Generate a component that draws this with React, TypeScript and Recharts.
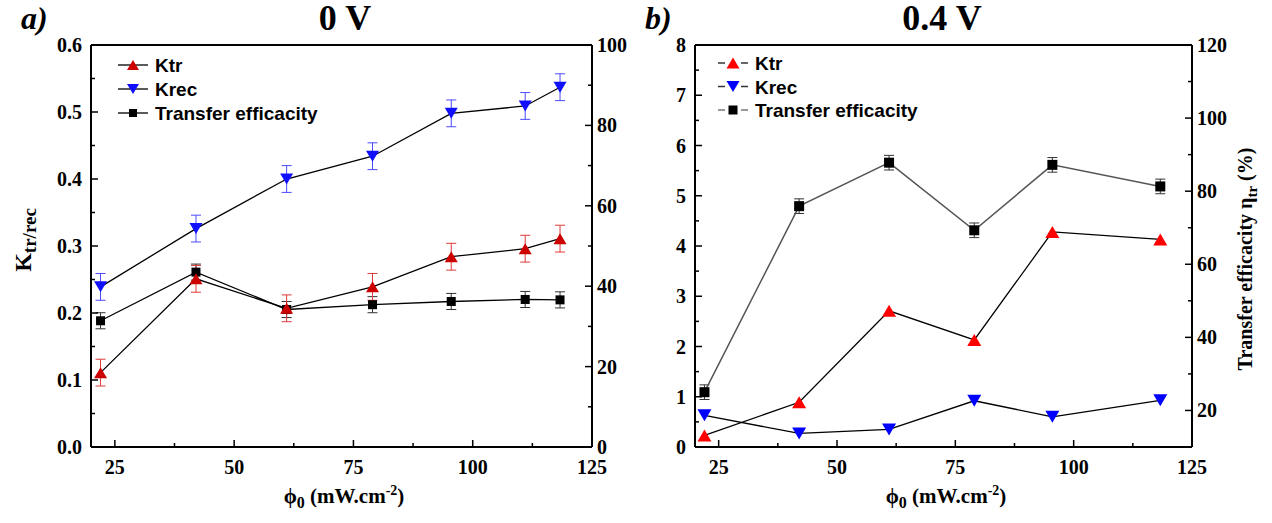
import React from "react";
import { ComposedChart, Line, XAxis, YAxis, ErrorBar, ReferenceLine, Legend } from "recharts";

// panel a) 0 V
const xA = [22, 42, 61, 79, 95.5, 111, 118.3];
const ktrA = [0.111, 0.251, 0.207, 0.239, 0.284, 0.296, 0.311];
const ktrAErr = [0.02, 0.02, 0.02, 0.02, 0.02, 0.02, 0.02];
const krecA = [0.239, 0.326, 0.4, 0.434, 0.498, 0.509, 0.537];
const krecAErr = [0.02, 0.02, 0.02, 0.02, 0.02, 0.02, 0.02];
const effA = [31.4, 43.5, 34.2, 35.4, 36.2, 36.7, 36.6];
const effAErr = [2, 2, 2, 2, 2, 2, 2];

// panel b) 0.4 V
const xB = [22, 42, 61, 79, 95.5, 118.3];
const ktrB = [0.23, 0.89, 2.71, 2.13, 4.28, 4.13];
const krecB = [0.63, 0.27, 0.35, 0.92, 0.6, 0.93];
const effB = [25, 75.9, 87.8, 69.3, 87.2, 81.3];
const effBErr = [2, 2, 2, 2, 2, 2];

// ticks (majors get labels)
const xTicks = [25, 37.5, 50, 62.5, 75, 87.5, 100, 112.5, 125];
const xMajor = [25, 50, 75, 100, 125];
const yTicksA = [0, 0.05, 0.1, 0.15, 0.2, 0.25, 0.3, 0.35, 0.4, 0.45, 0.5, 0.55, 0.6];
const yMajorA = [0, 0.1, 0.2, 0.3, 0.4, 0.5, 0.6];
const y2TicksA = [0, 10, 20, 30, 40, 50, 60, 70, 80, 90, 100];
const y2MajorA = [0, 20, 40, 60, 80, 100];
const yTicksB = [0, 0.5, 1, 1.5, 2, 2.5, 3, 3.5, 4, 4.5, 5, 5.5, 6, 6.5, 7, 7.5, 8];
const yMajorB = [0, 1, 2, 3, 4, 5, 6, 7, 8];
const y2TicksB = [10, 20, 30, 40, 50, 60, 70, 80, 90, 100, 110, 120];
const y2MajorB = [20, 40, 60, 80, 100, 120];

const dataA = xA.map((x, i) => ({
  x, ktr: ktrA[i], ktrErr: ktrAErr[i], krec: krecA[i], krecErr: krecAErr[i], eff: effA[i], effErr: effAErr[i],
}));
const dataB = xB.map((x, i) => ({ x, ktr: ktrB[i], krec: krecB[i], eff: effB[i], effErr: effBErr[i] }));

const SERIF = "'Liberation Serif', 'Times New Roman', serif";
const SANS = "'Liberation Sans', Arial, sans-serif";
const TICK_FONT = 20;
const M = 8;

const isIn = (arr: number[], v: number) => arr.some((m) => Math.abs(m - v) < 1e-9);

function makeTick(side: "left" | "right" | "bottom", majors: number[], fmt: (v: number) => string) {
  return (props: any) => {
    const { x, y, payload } = props;
    const v = payload.value;
    const major = isIn(majors, v);
    const len = major ? 7 : 4;
    const txt = { fontFamily: SERIF, fontWeight: 700, fontSize: TICK_FONT, fill: "#000" };
    if (side === "left") {
      const ax = x + M;
      return (
        <g>
          <line x1={ax} y1={y} x2={ax + len} y2={y} stroke="#000" strokeWidth={1.5} />
          {major && <text x={ax - 9} y={y + 7} textAnchor="end" {...txt}>{fmt(v)}</text>}
        </g>
      );
    }
    if (side === "right") {
      const ax = x - M;
      return (
        <g>
          <line x1={ax} y1={y} x2={ax - len} y2={y} stroke="#000" strokeWidth={1.5} />
          {major && <text x={ax + 5} y={y + 7} textAnchor="start" {...txt}>{fmt(v)}</text>}
        </g>
      );
    }
    const ay = y - M;
    return (
      <g>
        <line x1={x} y1={ay} x2={x} y2={ay - len} stroke="#000" strokeWidth={1.5} />
        {major && <text x={x} y={ay + 27} textAnchor="middle" {...txt}>{fmt(v)}</text>}
      </g>
    );
  };
}

const triUp = (color: string, w = 13, h = 11) => (p: any) => {
  const { cx, cy, index } = p;
  if (cx == null || cy == null) return <g key={index} />;
  return <path key={index} d={`M${cx},${cy - h / 2}L${cx + w / 2},${cy + h / 2}L${cx - w / 2},${cy + h / 2}Z`} fill={color} />;
};
const triDown = (color: string, w = 13, h = 11) => (p: any) => {
  const { cx, cy, index } = p;
  if (cx == null || cy == null) return <g key={index} />;
  return <path key={index} d={`M${cx - w / 2},${cy - h / 2}L${cx + w / 2},${cy - h / 2}L${cx},${cy + h / 2}Z`} fill={color} />;
};
const square = (color: string, s = 9) => (p: any) => {
  const { cx, cy, index } = p;
  if (cx == null || cy == null) return <g key={index} />;
  return <rect key={index} x={cx - s / 2} y={cy - s / 2} width={s} height={s} fill={color} />;
};

type LegendRow = { name: string; line: string; marker: (p: any) => React.ReactNode };

function LegendBox({ rows, gap, step }: { rows: LegendRow[]; gap: boolean; step: number }) {
  return (
    <svg width={240} height={76}>
      {rows.map((r, i) => {
        const cy = 11 + i * step;
        return (
          <g key={r.name}>
            {gap ? (
              <>
                <line x1={3} y1={cy} x2={10} y2={cy} stroke={r.line} strokeWidth={1.5} />
                <line x1={26} y1={cy} x2={33} y2={cy} stroke={r.line} strokeWidth={1.5} />
              </>
            ) : (
              <line x1={3} y1={cy} x2={33} y2={cy} stroke={r.line} strokeWidth={1.3} />
            )}
            {r.marker({ cx: 18, cy, index: i })}
            <text x={40} y={cy + 7} fontFamily={SANS} fontWeight={700} fontSize={19} fill="#000">{r.name}</text>
          </g>
        );
      })}
    </svg>
  );
}

const XTitle = (cx: number) => () => (
  <text x={cx} y={503} textAnchor="middle" fontFamily={SERIF} fontWeight={700} fontSize={21} fill="#000">
    ϕ<tspan fontSize={16} dy={5}>0</tspan>
    <tspan dy={-5}> (mW.cm</tspan>
    <tspan fontSize={14} dy={-8}>-2</tspan>
    <tspan dy={8}>)</tspan>
  </text>
);

const Title = ({ left, label, center, text }: { left: number; label: string; center: number; text: string }) => (
  <>
    <div style={{ position: "absolute", left, top: 1, fontFamily: SERIF, fontStyle: "italic", fontWeight: 700, fontSize: 32, lineHeight: "35px" }}>
      {label}
    </div>
    <div style={{ position: "absolute", left: center - 100, width: 200, top: 1, textAlign: "center", fontFamily: SERIF, fontWeight: 700, fontSize: 36, lineHeight: "34px" }}>
      {text}
    </div>
  </>
);

export default function App() {
  return (
    <div style={{ position: "absolute", left: 0, top: 0, width: 1272, height: 523, background: "#fff" }}>
      <Title left={21} label="a)" center={345} text="0 V" />
      <Title left={645} label="b)" center={942} text="0.4 V" />

      <div style={{ position: "absolute", left: 0, top: 0 }}>
        <ComposedChart width={640} height={523} data={dataA} margin={{ top: 45, right: 8, bottom: 36, left: 31 }}>
          <XAxis
            dataKey="x" type="number" domain={[20, 125]} ticks={xTicks} interval={0}
            tickSize={0} tickMargin={M} tickLine={false} height={40}
            axisLine={{ stroke: "#000", strokeWidth: 2 }}
            tick={makeTick("bottom", xMajor, (v) => `${v}`)}
            label={XTitle(344)}
          />
          <YAxis
            yAxisId="l" domain={[0, 0.6]} ticks={yTicksA} interval={0} width={60}
            tickSize={0} tickMargin={M} tickLine={false}
            axisLine={{ stroke: "#000", strokeWidth: 2 }}
            tick={makeTick("left", yMajorA, (v) => v.toFixed(1))}
            label={() => (
              <text transform="translate(31,240) rotate(-90)" textAnchor="middle" fontFamily={SERIF} fontWeight={700} fontSize={24} fill="#000">
                K<tspan fontSize={19} dy={5}>tr/rec</tspan>
              </text>
            )}
          />
          <YAxis
            yAxisId="r" orientation="right" domain={[0, 100]} ticks={y2TicksA} interval={0} width={40}
            tickSize={0} tickMargin={M} tickLine={false}
            axisLine={{ stroke: "#000", strokeWidth: 2 }}
            tick={makeTick("right", y2MajorA, (v) => `${v}`)}
          />
          <ReferenceLine yAxisId="l" y={0.6} stroke="#000" strokeWidth={2} ifOverflow="extendDomain" />
          <Line yAxisId="r" dataKey="eff" stroke="#000" strokeWidth={1.3} dot={square("#000")} isAnimationActive={false}>
            <ErrorBar dataKey="effErr" width={5} stroke="#333" strokeWidth={1} direction="y" />
          </Line>
          <Line yAxisId="l" dataKey="ktr" stroke="#000" strokeWidth={1.3} dot={triUp("#cc0000")} isAnimationActive={false}>
            <ErrorBar dataKey="ktrErr" width={5} stroke="#e03a3a" strokeWidth={1} direction="y" />
          </Line>
          <Line yAxisId="l" dataKey="krec" stroke="#000" strokeWidth={1.3} dot={triDown("#1010ff")} isAnimationActive={false}>
            <ErrorBar dataKey="krecErr" width={5} stroke="#4a4aff" strokeWidth={1} direction="y" />
          </Line>
          <Legend
            layout="horizontal" verticalAlign="middle" align="center"
            wrapperStyle={{ left: 115, top: 54, width: 240, height: 76 }}
            content={() => (
              <LegendBox
                gap={false}
                step={24}
                rows={[
                  { name: "Ktr", line: "#000", marker: triUp("#cc0000", 12, 10) },
                  { name: "Krec", line: "#000", marker: triDown("#1010ff", 12, 10) },
                  { name: "Transfer efficacity", line: "#000", marker: square("#000", 8) },
                ]}
              />
            )}
          />
        </ComposedChart>
      </div>

      <div style={{ position: "absolute", left: 640, top: 0 }}>
        <ComposedChart width={632} height={523} data={dataB} margin={{ top: 45, right: 10, bottom: 36, left: 15 }}>
          <XAxis
            dataKey="x" type="number" domain={[20, 125]} ticks={xTicks} interval={0}
            tickSize={0} tickMargin={M} tickLine={false} height={40}
            axisLine={{ stroke: "#000", strokeWidth: 2 }}
            tick={makeTick("bottom", xMajor, (v) => `${v}`)}
            label={XTitle(306)}
          />
          <YAxis
            yAxisId="l" domain={[0, 8]} ticks={yTicksB} interval={0} width={40}
            tickSize={0} tickMargin={M} tickLine={false}
            axisLine={{ stroke: "#000", strokeWidth: 2 }}
            tick={makeTick("left", yMajorB, (v) => `${v}`)}
          />
          <YAxis
            yAxisId="r" orientation="right" domain={[10, 120]} ticks={y2TicksB} interval={0} width={70}
            tickSize={0} tickMargin={M} tickLine={false}
            axisLine={{ stroke: "#000", strokeWidth: 2 }}
            tick={makeTick("right", y2MajorB, (v) => `${v}`)}
            label={() => (
              <text transform="translate(612,259) rotate(-90)" textAnchor="middle" fontFamily={SERIF} fontWeight={700} fontSize={20} fill="#000">
                Transfer efficacity η<tspan fontSize={15} dy={5}>tr</tspan>
                <tspan dy={-5}> (%)</tspan>
              </text>
            )}
          />
          <ReferenceLine yAxisId="l" y={8} stroke="#000" strokeWidth={2} ifOverflow="extendDomain" />
          <Line yAxisId="r" dataKey="eff" stroke="#555" strokeWidth={1.5} dot={square("#000", 10)} isAnimationActive={false}>
            <ErrorBar dataKey="effErr" width={5} stroke="#333" strokeWidth={1} direction="y" />
          </Line>
          <Line yAxisId="l" dataKey="ktr" stroke="#000" strokeWidth={1.3} dot={triUp("#ff0000", 14, 12)} isAnimationActive={false} />
          <Line yAxisId="l" dataKey="krec" stroke="#000" strokeWidth={1.3} dot={triDown("#0000ff", 14, 12)} isAnimationActive={false} />
          <Legend
            layout="horizontal" verticalAlign="middle" align="center"
            wrapperStyle={{ left: 75, top: 52, width: 240, height: 76 }}
            content={() => (
              <LegendBox
                gap={true}
                step={23.5}
                rows={[
                  { name: "Ktr", line: "#333", marker: triUp("#ff0000", 13, 11) },
                  { name: "Krec", line: "#333", marker: triDown("#0000ff", 13, 11) },
                  { name: "Transfer efficacity", line: "#777", marker: square("#000", 9) },
                ]}
              />
            )}
          />
        </ComposedChart>
      </div>
    </div>
  );
}
